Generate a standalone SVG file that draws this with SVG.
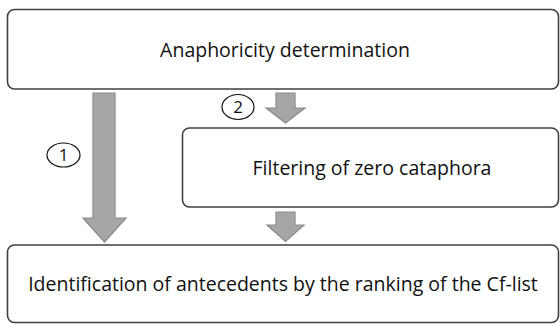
<svg xmlns="http://www.w3.org/2000/svg" width="560" height="324" viewBox="0 0 560 324">
<style>
.box{fill:#fff;stroke:#404040;stroke-width:1.6}
.lbl{font-family:"Open Sans","Noto Sans",sans-serif;font-size:19.5px;fill:#111;text-anchor:middle}
.arr{fill:#a6a6a6;stroke:#8a8a8a;stroke-width:1.2}
.num{fill:#fff;stroke:#111;stroke-width:1.2}
.numt{font-family:"Open Sans","Noto Sans",sans-serif;font-size:17px;fill:#111;text-anchor:middle}
</style>
<rect width="560" height="324" fill="#fff"/>
<g id="connectors">
<path class="arr" d="M93,93 H115 V218 H126 L104.5,242 L83,218 H93 Z"/>
<path class="arr" d="M276,93 H295 V108 H305 L285.5,123 L266,108 H276 Z"/>
<path class="arr" d="M276,212 H295 V225 H304 L285.5,241.5 L267,225 H276 Z"/>
<g id="label1"><ellipse class="num" cx="63.5" cy="155" rx="16.5" ry="12"/><text class="numt" x="63.5" y="161">1</text></g>
<g id="label2"><ellipse class="num" cx="238" cy="107" rx="16" ry="12.5"/><text class="numt" x="238" y="113">2</text></g>
</g>
<g id="anaphoricity">
<rect class="box" x="7.5" y="9.5" width="551" height="79.5" rx="7"/>
<text class="lbl" x="285" y="57">Anaphoricity determination</text>
</g>
<g id="filtering">
<rect class="box" x="182.5" y="128" width="376" height="79" rx="7"/>
<text class="lbl" x="372" y="175">Filtering of zero cataphora</text>
</g>
<g id="identification">
<rect class="box" x="7.5" y="245" width="551" height="77.5" rx="7"/>
<text class="lbl" x="283" y="291">Identification of antecedents by the ranking of the Cf-list</text>
</g>
</svg>
